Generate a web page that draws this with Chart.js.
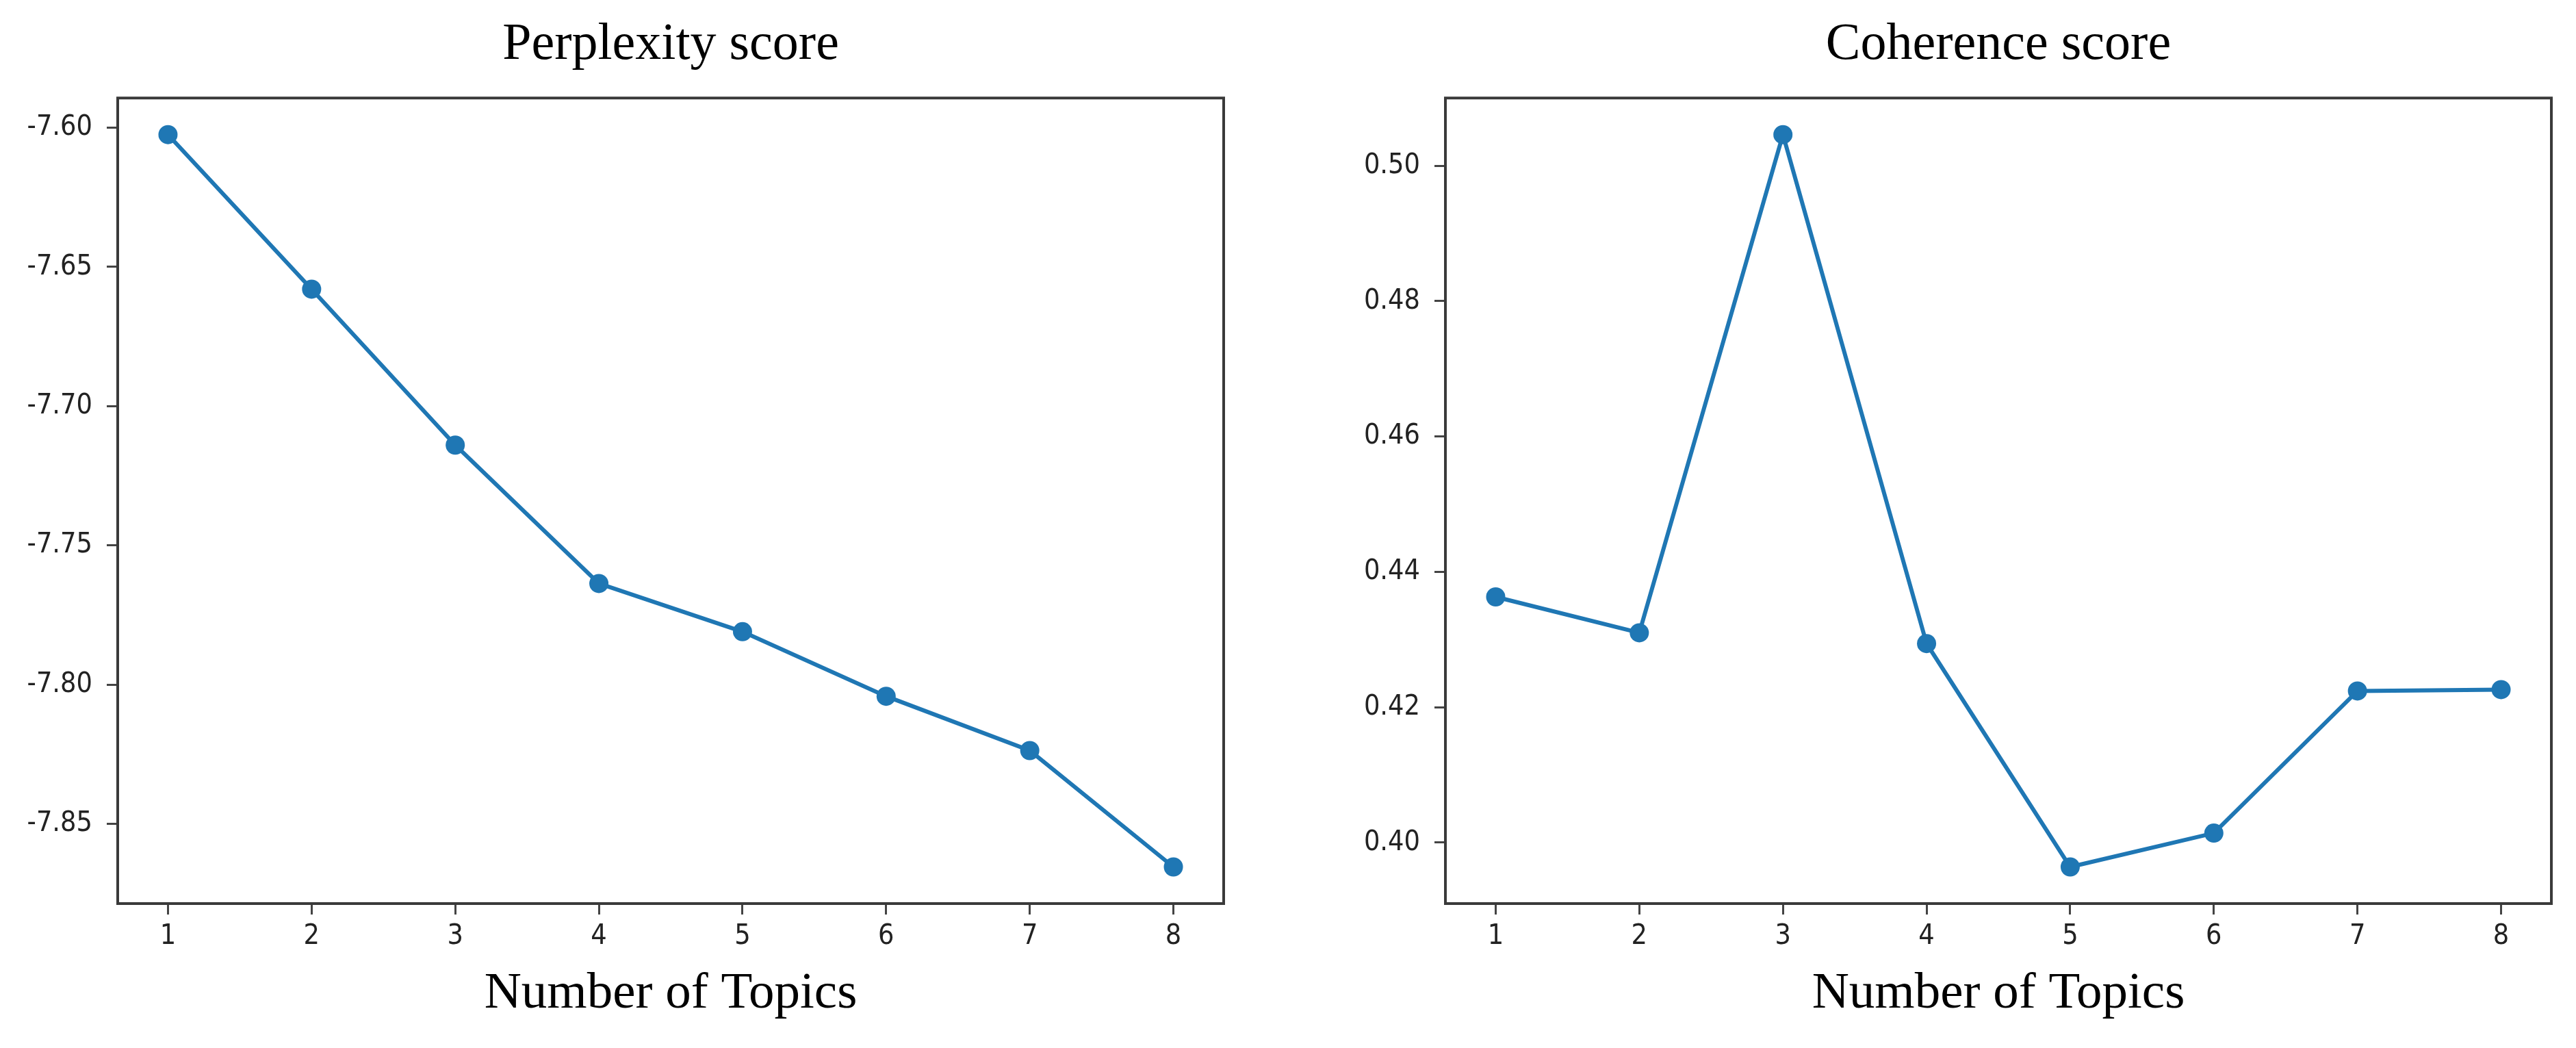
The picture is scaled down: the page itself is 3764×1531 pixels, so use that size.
<!DOCTYPE html>
<html>
<head>
<meta charset="utf-8">
<title>Perplexity and coherence by number of topics</title>
<script src="https://cdn.jsdelivr.net/npm/chart.js@4.4.1/dist/chart.umd.min.js"></script>
<style>
    body { margin: 0; background: #fff; overflow: hidden; }
    .panel { position: absolute; top: 0; }
</style>
</head>
<body>
<div class="panel" style="left:0"><canvas id="perplexityChart" width="1882" height="1531"></canvas></div>
<div class="panel" style="left:1882px"><canvas id="coherenceChart" width="1882" height="1531"></canvas></div>
<script>
// values
const topics = [1, 2, 3, 4, 5, 6, 7, 8];
const perplexity = [-7.6025, -7.658, -7.714, -7.7637, -7.781, -7.8042, -7.8237, -7.8655];
const coherence = [0.4363, 0.4310, 0.5046, 0.4294, 0.3964, 0.4014, 0.4224, 0.4226];
const perplexityTicks = [-7.60, -7.65, -7.70, -7.75, -7.80, -7.85];
const coherenceTicks = [0.40, 0.42, 0.44, 0.46, 0.48, 0.50];

const blue = '#1f77b4';
const serif = "'Liberation Serif', 'Times New Roman', serif";
const tickFont = "'DejaVu Sans Condensed', 'Liberation Sans Narrow', sans-serif";

// draws the box around the plot area, like matplotlib spines
const framePlugin = {
    id: 'frame',
    afterDraw(chart) {
        const { ctx, chartArea: a } = chart;
        ctx.save();
        ctx.strokeStyle = '#3a3a3a';
        ctx.lineWidth = 4;
        ctx.strokeRect(a.left, a.top, a.right - a.left, a.bottom - a.top);
        ctx.restore();
    }
};

// matplotlib style 5% margin around the data
function padded(values) {
    const lo = Math.min(...values), hi = Math.max(...values);
    const m = (hi - lo) * 0.05;
    return { min: lo - m, max: hi + m };
}

function createScoreChart(id, title, values, yTicks, leftPad) {
    const ctx = document.getElementById(id).getContext('2d');
    const range = padded(values);
    new Chart(ctx, {
        type: 'line',
        data: {
            datasets: [{
                data: topics.map((t, i) => ({ x: t, y: values[i] })),
                borderColor: blue,
                backgroundColor: blue,
                borderWidth: 6,
                pointRadius: 14,
                pointBorderWidth: 0,
                pointBackgroundColor: blue,
                tension: 0,
                clip: false
            }]
        },
        options: {
            responsive: false,
            animation: false,
            layout: { padding: { left: leftPad, right: 1882 - leftPad - 172 - 1616, top: 0, bottom: 0 } },
            scales: {
                x: {
                    type: 'linear',
                    min: 0.65,
                    max: 8.35,
                    afterBuildTicks: s => { s.ticks = topics.map(v => ({ value: v })); },
                    afterFit: s => { s.height = 211; },
                    grid: { drawOnChartArea: false, drawTicks: true, tickLength: 16, tickWidth: 3, tickColor: '#444' },
                    border: { display: false },
                    ticks: {
                        padding: 8,
                        color: '#222',
                        font: { family: tickFont, size: 41 },
                        callback: v => String(v)
                    },
                    title: {
                        display: true,
                        text: 'Number of Topics',
                        color: '#000',
                        font: { family: serif, size: 75 },
                        padding: { top: 0, bottom: 34 }
                    }
                },
                y: {
                    min: range.min,
                    max: range.max,
                    afterBuildTicks: s => { s.ticks = yTicks.map(v => ({ value: v })); },
                    afterFit: s => { s.width = 172; },
                    grid: { drawOnChartArea: false, drawTicks: true, tickLength: 16, tickWidth: 3, tickColor: '#444' },
                    border: { display: false },
                    ticks: {
                        padding: 21,
                        color: '#222',
                        font: { family: tickFont, size: 41 },
                        callback: v => v.toFixed(2)
                    }
                }
            },
            plugins: {
                legend: { display: false },
                tooltip: { enabled: false },
                title: {
                    display: true,
                    text: title,
                    fullSize: false,
                    color: '#000',
                    font: { family: serif, size: 76, weight: 'normal' },
                    padding: { top: 20, bottom: 32 }
                }
            }
        },
        plugins: [framePlugin]
    });
}

function initializeCharts() {
    createScoreChart('perplexityChart', 'Perplexity score', perplexity, perplexityTicks, 0);
    createScoreChart('coherenceChart', 'Coherence score', coherence, coherenceTicks, 58);
}

initializeCharts();
</script>
</body>
</html>
